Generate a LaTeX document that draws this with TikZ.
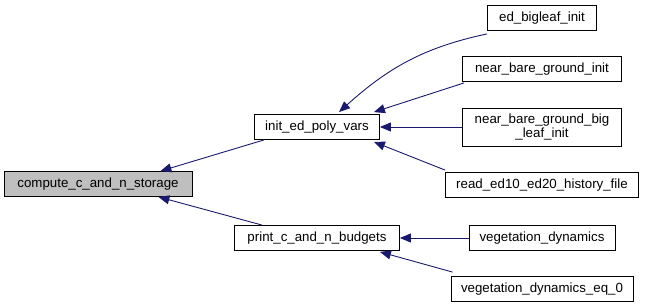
\documentclass[tikz,border=0pt]{standalone}
\usepackage{fontspec}
\setmainfont{Liberation Sans}
\usepackage{xcolor}
\usepackage{tikz}
\usetikzlibrary{positioning, arrows.meta}
\definecolor{edgeblue}{HTML}{191970}
\definecolor{rootgray}{HTML}{BFBFBF}
\tikzset{
  func/.style  = {rectangle, draw=black, thick, fill=white, minimum height=25pt,
                  inner sep=2pt, align=center, font=\fontsize{13.3}{14}\selectfont},
  root/.style  = {func, fill=rootgray},
  call/.style  = {{Triangle[length=11pt,width=9pt]}-, draw=edgeblue, line width=0.9pt},
}

\begin{document}
\begin{tikzpicture}[x=1pt, y=-1pt]
  \useasboundingbox (0,0) rectangle (645,307);

  % function whose callers are shown
  \node[root, minimum width=188pt] (cns) at (98,184) {compute\_c\_and\_n\_storage};

  % first level callers
  \node[func, minimum width=125pt] (initpoly) at (317,127) {init\_ed\_poly\_vars};
  \node[func, minimum width=165pt] (budgets) at (317,238) {print\_c\_and\_n\_budgets};

  % second level callers
  \node[func, minimum width=109pt] (bigleaf) at (542,18) {ed\_bigleaf\_init};
  \node[func, minimum width=159pt] (nbg) at (542,69) {near\_bare\_ground\_init};
  \node[func, minimum width=159pt, minimum height=38pt, inner ysep=1pt] (nbgbig) at (542,127)
       {near\_bare\_ground\_big\\\_leaf\_init};
  \node[func, minimum width=193pt] (history) at (542,185) {read\_ed10\_ed20\_history\_file};
  \node[func, minimum width=146pt] (vegdyn) at (542,238) {vegetation\_dynamics};
  \node[func, minimum width=182pt] (vegeq) at (542,289) {vegetation\_dynamics\_eq\_0};

  \draw[call] ([xshift=-32pt]cns.north east) -- ([xshift=10pt]initpoly.south west);
  \draw[call] ([xshift=-34pt]cns.south east) -- ([xshift=28pt]budgets.north west);

  \draw[call] ([xshift=22pt,yshift=2pt]initpoly.north) to[out=42, in=192] ([yshift=-3pt]bigleaf.south west);
  \draw[call] ([xshift=-6pt,yshift=2pt]initpoly.north east) -- ([xshift=2pt,yshift=-1pt]nbg.south west);
  \draw[call] (initpoly.east) -- (nbgbig.west);
  \draw[call] ([xshift=-6pt,yshift=-2pt]initpoly.south east) -- ([yshift=2pt]history.north west);

  \draw[call] (budgets.east) -- (vegdyn.west);
  \draw[call] ([xshift=-20pt,yshift=-1pt]budgets.south east) -- ([xshift=2pt,yshift=4pt]vegeq.north west);

\end{tikzpicture}
\end{document}
